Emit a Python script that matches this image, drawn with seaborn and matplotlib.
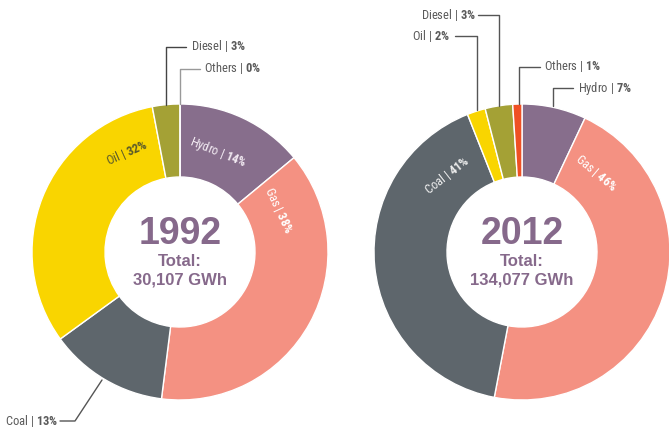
import matplotlib
matplotlib.use("Agg")
import matplotlib.pyplot as plt
import seaborn as sns

# data
sources = ["Hydro", "Gas", "Coal", "Oil", "Diesel", "Others"]
share_1992 = [14, 38, 13, 32, 3, 0]
share_2012 = [7, 46, 41, 2, 3, 1]
years = ["1992", "2012"]
totals = ["30,107", "134,077"]

palette = ["#876e8c", "#f49182", "#5e666c", "#f9d500", "#a4a135", "#ef5024"]
purple = "#86698b"

sns.set_theme(style="white")
narrow = ["Roboto Condensed", "DejaVu Sans"]
plt.rcParams["font.family"] = narrow
plt.rcParams["mathtext.fontset"] = "custom"
plt.rcParams["mathtext.rm"] = "Roboto Condensed"
plt.rcParams["mathtext.bf"] = "Roboto Condensed:bold"

W, H = 669, 428
fig = plt.figure(figsize=(W / 100, H / 100), dpi=100)
ax = fig.add_axes([0, 0, 1, 1])

centres = [(180, 252), (522, 252)]
R, ring = 148, 73

for shares, (cx, cy), year, tot in zip([share_1992, share_2012], centres, years, totals):
    ax.pie(shares, colors=palette, startangle=90, counterclock=False,
           radius=R, center=(cx, H - cy),
           wedgeprops=dict(width=ring, edgecolor="white", linewidth=1))
    ax.text(cx, H - 234, year, ha="center", va="center", fontsize=27,
            fontweight="bold", color=purple, family="Liberation Sans")
    ax.text(cx, H - 261, "Total:", ha="center", va="center", fontsize=12,
            fontweight="bold", color=purple, family="Liberation Sans")
    ax.text(cx, H - 280, f"{tot} GWh", ha="center", va="center", fontsize=12,
            fontweight="bold", color=purple, family="Liberation Sans")

ax.set_xlim(0, W)
ax.set_ylim(0, H)
ax.set_aspect("equal")
ax.axis("off")


def label(x, y, name, pct, color="#5a5a5a", rot=0, ha="left", size=9):
    ax.text(x, H - y, f"{name} | $\\mathbf{{{pct}\\%}}$", ha=ha, va="center",
            rotation=rot, rotation_mode="anchor", fontsize=size, color=color)


def leader(pts, color="#555555"):
    ax.plot([p[0] for p in pts], [H - p[1] for p in pts], color=color, lw=1)


# labels inside the rings
label(218, 152, sources[0], share_1992[0], "#f2eaf2", rot=-22, ha="center")
label(278, 210, sources[1], share_1992[1], "#ffffff", rot=-65, ha="center")
label(127, 153, sources[3], share_1992[3], "#5a5a2a", rot=24, ha="center")
label(447, 175, sources[2], share_2012[2], "#eeeeee", rot=38, ha="center")
label(596, 173, sources[1], share_2012[1], "#ffffff", rot=-40, ha="center")

# labels outside with leader lines
leader([(166, 105), (166, 47), (186, 47)], "#444444")
label(191, 46, sources[4], share_1992[4])
leader([(180, 104), (180, 69), (200, 69)], "#999999")
label(204, 68, sources[5], share_1992[5])
leader([(102, 380), (75, 421), (60, 421)])
label(5, 421, sources[2], share_1992[2])

leader([(499, 106), (499, 15), (478, 15)])
label(421, 15, sources[4], share_2012[4])
leader([(477, 110), (477, 36), (455, 36)])
label(412, 36, sources[3], share_2012[3])
leader([(519, 104), (519, 67), (540, 67)])
label(544, 66, sources[5], share_2012[5])
leader([(553, 106), (553, 88), (573, 88)])
label(578, 88, sources[0], share_2012[0])

fig.savefig("out.png", dpi=100)
